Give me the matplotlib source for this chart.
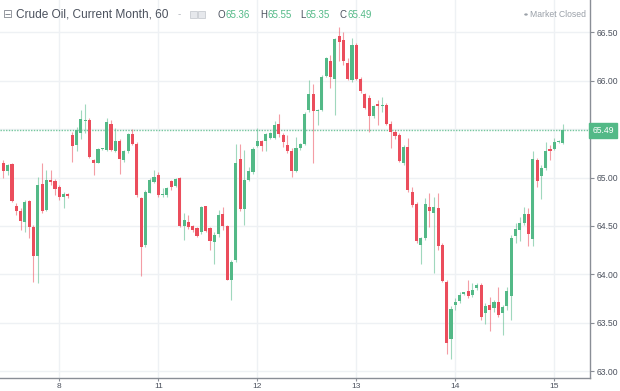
import matplotlib
matplotlib.use('Agg')
import matplotlib.pyplot as plt
import matplotlib.transforms as mtransforms
from matplotlib.patches import Rectangle, Circle
import numpy as np

# ---------------- data (hourly candles) ----------------
opens = [65.15, 65.07, 65.14, 64.71, 64.65, 64.54, 64.76, 64.49, 64.19, 64.93,
         64.66, 64.97, 64.96, 64.90, 64.80, 64.83, 65.44, 65.34, 65.46, 65.58,
         65.59, 65.18, 65.15, 65.29, 65.28, 65.55, 65.27, 65.38, 65.18, 65.27,
         65.45, 65.35, 64.79, 64.30, 64.84, 64.95, 65.03, 64.82, 64.82, 64.96,
         64.91, 64.99, 64.50, 64.54, 64.50, 64.48, 64.44, 64.71, 64.48, 64.33,
         64.42, 64.62, 64.50, 63.94, 64.15, 65.19, 64.67, 64.97, 65.06, 65.33,
         65.38, 65.38, 65.41, 65.41, 65.55, 65.44, 65.34, 65.27, 65.07, 65.30,
         65.35, 65.70, 65.86, 65.69, 65.70, 66.05, 66.20, 66.02, 66.46, 66.42,
         66.18, 66.01, 66.37, 66.02, 65.86, 65.82, 65.64, 65.76, 65.74, 65.75,
         65.55, 65.47, 65.44, 65.15, 65.32, 64.85, 64.73, 64.30, 64.37, 64.70,
         64.63, 64.68, 64.30, 63.92, 63.33, 63.68, 63.72, 63.80, 63.83, 63.79,
         63.86, 63.89, 63.60, 63.68, 63.65, 63.71, 63.60, 63.67, 63.78, 64.40,
         64.46, 64.53, 64.62, 64.36, 65.18, 65.02, 65.10, 65.29, 65.29, 65.37,
         65.36]
highs = [65.18, 65.14, 65.15, 64.74, 64.68, 64.77, 64.77, 64.51, 65.01, 65.15,
         65.08, 65.08, 64.98, 64.92, 64.85, 64.84, 65.47, 65.52, 65.70, 65.76,
         65.61, 65.19, 65.30, 65.30, 65.61, 65.59, 65.51, 65.40, 65.28, 65.46,
         65.50, 65.37, 64.80, 64.87, 64.99, 65.08, 65.06, 64.89, 64.90, 64.97,
         65.00, 65.01, 64.63, 64.61, 64.51, 64.49, 64.71, 64.71, 64.49, 64.44,
         64.66, 64.70, 64.51, 64.15, 65.35, 65.35, 65.28, 65.11, 65.32, 65.51,
         65.39, 65.46, 65.47, 65.58, 65.66, 65.46, 65.44, 65.30, 65.42, 65.36,
         65.68, 66.01, 65.97, 65.71, 66.06, 66.25, 66.27, 66.44, 66.56, 66.50,
         66.23, 66.44, 66.39, 66.04, 65.87, 65.85, 65.75, 65.80, 65.83, 65.77,
         65.58, 65.49, 65.46, 65.34, 65.41, 64.90, 64.75, 64.39, 64.79, 64.84,
         64.80, 64.84, 64.32, 63.94, 63.67, 63.75, 63.82, 63.81, 63.94, 63.91,
         63.91, 63.91, 63.70, 63.77, 63.73, 63.87, 63.68, 63.87, 64.41, 64.53,
         64.59, 64.70, 64.68, 65.27, 65.20, 65.13, 65.37, 65.34, 65.41, 65.39,
         65.55]
lows = [64.99, 65.03, 64.75, 64.61, 64.46, 64.44, 64.37, 63.92, 63.91, 64.63,
        64.65, 64.92, 64.82, 64.77, 64.68, 64.79, 65.16, 65.27, 65.40, 65.46,
        65.20, 65.03, 65.15, 65.28, 65.27, 65.27, 65.26, 65.04, 65.16, 65.25,
        65.34, 64.80, 63.98, 64.28, 64.84, 64.94, 64.80, 64.80, 64.80, 64.87,
        64.90, 64.49, 64.35, 64.47, 64.44, 64.39, 64.42, 64.44, 64.25, 64.11,
        64.39, 64.46, 63.94, 63.73, 64.13, 64.65, 64.51, 64.96, 65.04, 65.32,
        65.27, 65.27, 65.40, 65.40, 65.42, 65.32, 65.25, 65.01, 65.06, 65.28,
        65.34, 65.68, 65.15, 65.54, 65.69, 66.04, 65.92, 65.65, 66.20, 66.16,
        66.01, 65.99, 66.01, 65.87, 65.71, 65.47, 65.61, 65.54, 65.68, 65.54,
        65.30, 65.40, 65.16, 65.13, 64.85, 64.70, 64.32, 64.11, 64.35, 64.49,
        64.01, 64.25, 63.92, 63.18, 63.13, 63.63, 63.70, 63.79, 63.75, 63.77,
        63.84, 63.53, 63.49, 63.41, 63.61, 63.56, 63.37, 63.63, 63.53, 64.32,
        64.34, 64.51, 64.29, 64.29, 64.90, 64.78, 65.08, 65.18, 65.28, 65.36,
        65.35]
closes = [65.07, 65.13, 64.76, 64.65, 64.55, 64.75, 64.49, 64.19, 64.92, 64.65,
          64.97, 64.95, 64.88, 64.80, 64.83, 64.81, 65.33, 65.49, 65.60, 65.59,
          65.21, 65.15, 65.29, 65.29, 65.57, 65.28, 65.38, 65.19, 65.27, 65.45,
          65.35, 64.82, 64.28, 64.85, 64.97, 65.01, 64.82, 64.83, 64.89, 64.90,
          64.98, 64.50, 64.56, 64.49, 64.46, 64.40, 64.70, 64.45, 64.34, 64.41,
          64.61, 64.50, 63.94, 64.13, 65.15, 64.67, 64.97, 65.07, 65.29, 65.38,
          65.33, 65.45, 65.46, 65.54, 65.45, 65.37, 65.27, 65.07, 65.31, 65.35,
          65.66, 65.86, 65.69, 65.70, 66.04, 66.23, 66.04, 66.43, 66.40, 66.20,
          66.02, 66.37, 66.02, 65.89, 65.72, 65.64, 65.74, 65.74, 65.75, 65.55,
          65.47, 65.43, 65.17, 65.32, 64.87, 64.72, 64.34, 64.37, 64.73, 64.65,
          64.70, 64.29, 63.93, 63.29, 63.64, 63.71, 63.79, 63.80, 63.78, 63.84,
          63.89, 63.56, 63.67, 63.63, 63.71, 63.58, 63.66, 63.83, 64.37, 64.47,
          64.53, 64.62, 64.42, 65.19, 64.96, 65.10, 65.27, 65.27, 65.37, 65.38,
          65.49]

day_ticks = [13, 36, 59, 82, 105, 128]
day_labels = ['8', '11', '12', '13', '14', '15']
price_ticks = [63.0, 63.5, 64.0, 64.5, 65.0, 65.5, 66.0, 66.5]
title = 'Crude Oil, Current Month, 60'
status = 'Market Closed'

# ---------------- style ----------------
UP = '#53b987'
DOWN = '#eb4d5c'
AXC = '#8a8e96'
TXT = '#4c525e'
GRID = '#eef1f4'
plt.rcParams['font.family'] = ['Liberation Sans', 'DejaVu Sans']

W, H = 620, 391
fig = plt.figure(figsize=(W / 100, H / 100), dpi=100)
fig.patch.set_facecolor('white')
ax = fig.add_axes([0, 13 / H, 590 / W, 378 / H])

o = np.array(opens); h = np.array(highs); l = np.array(lows); c = np.array(closes)
x = np.arange(len(o))
cols = np.where(c >= o, UP, DOWN)

ax.vlines(x, l, h, colors=cols, linewidth=0.8, alpha=0.55, zorder=2)
ax.bar(x, np.maximum(np.abs(c - o), 0.012), bottom=np.minimum(o, c), width=0.72,
       color=cols, linewidth=0, zorder=3)

ax.set_xlim(-0.78, 136.3)
ax.set_ylim(62.9286, 66.834)

ax.yaxis.tick_right()
ax.set_yticks(price_ticks)
last = c[-1]
ax.set_yticklabels(['' if abs(v - last) < 0.05 else f'{v:.2f}' for v in price_ticks])
ax.set_xticks(day_ticks)
ax.set_xticklabels(day_labels)
ax.grid(True, color=GRID, linewidth=1, zorder=0)
ax.set_axisbelow(True)
for s in ['top', 'left']:
    ax.spines[s].set_visible(False)
for s in ['right', 'bottom']:
    ax.spines[s].set_color(AXC)
    ax.spines[s].set_linewidth(1)
ax.tick_params(axis='y', length=3, width=0.8, color=AXC, labelsize=6.2,
               labelcolor=TXT, pad=1.5)
ax.tick_params(axis='x', length=2.5, width=0.8, color=AXC, labelsize=6.0,
               labelcolor=TXT, pad=0.8)

# last price line + label
ax.axhline(last, color=UP, linestyle=(0, (1, 1)), linewidth=1, alpha=0.8, zorder=1)
trans = mtransforms.blended_transform_factory(ax.transAxes, ax.transData)
ax.text(1.004, last, f'{last:.2f}', transform=trans, color='white', fontsize=6.2,
        ha='left', va='center', clip_on=False, zorder=10,
        bbox=dict(boxstyle='square,pad=0.35', fc=UP, ec=UP))

# header
def fx(px):
    return px / W

def fy(py):
    return 1 - py / H

yh = fy(14.5)
fig.text(fx(3), yh, '\u229f', color='#8a8e96', fontsize=8.5, va='center', ha='left',
         family=['DejaVu Sans'])
fig.text(fx(16), yh, title, color=TXT, fontsize=8.6, va='center', ha='left')
fig.text(fx(178), yh, '-', color='#b0b4bb', fontsize=7, va='center', ha='left')
for px in (190, 198):
    fig.patches.append(Rectangle((fx(px), fy(17.5)), 6.5 / W, 6.5 / H,
                                 transform=fig.transFigure,
                                 fc='#e6e8ec', ec='#c9ccd2', lw=0.6))
labels = ['O', 'H', 'L', 'C']
vals = [o[-1], h[-1], l[-1], c[-1]]
lx = [218, 260, 300, 340]
vx = [226, 267, 306, 347]
for lab, v, px, qx in zip(labels, vals, lx, vx):
    fig.text(fx(px), yh, lab, color=TXT, fontsize=7, va='center', ha='left')
    fig.text(fx(qx), yh, f'{v:.2f}', color=UP, fontsize=7, va='center', ha='left')

fig.patches.append(Circle((fx(526), fy(14.5)), 1.8 / W, transform=fig.transFigure,
                          fc='#9aa0a8', ec='none'))
fig.text(fx(530), fy(14.5), status, color='#9aa0a8', fontsize=6.2, va='center', ha='left')

fig.savefig('out.png', dpi=100, facecolor='white')
